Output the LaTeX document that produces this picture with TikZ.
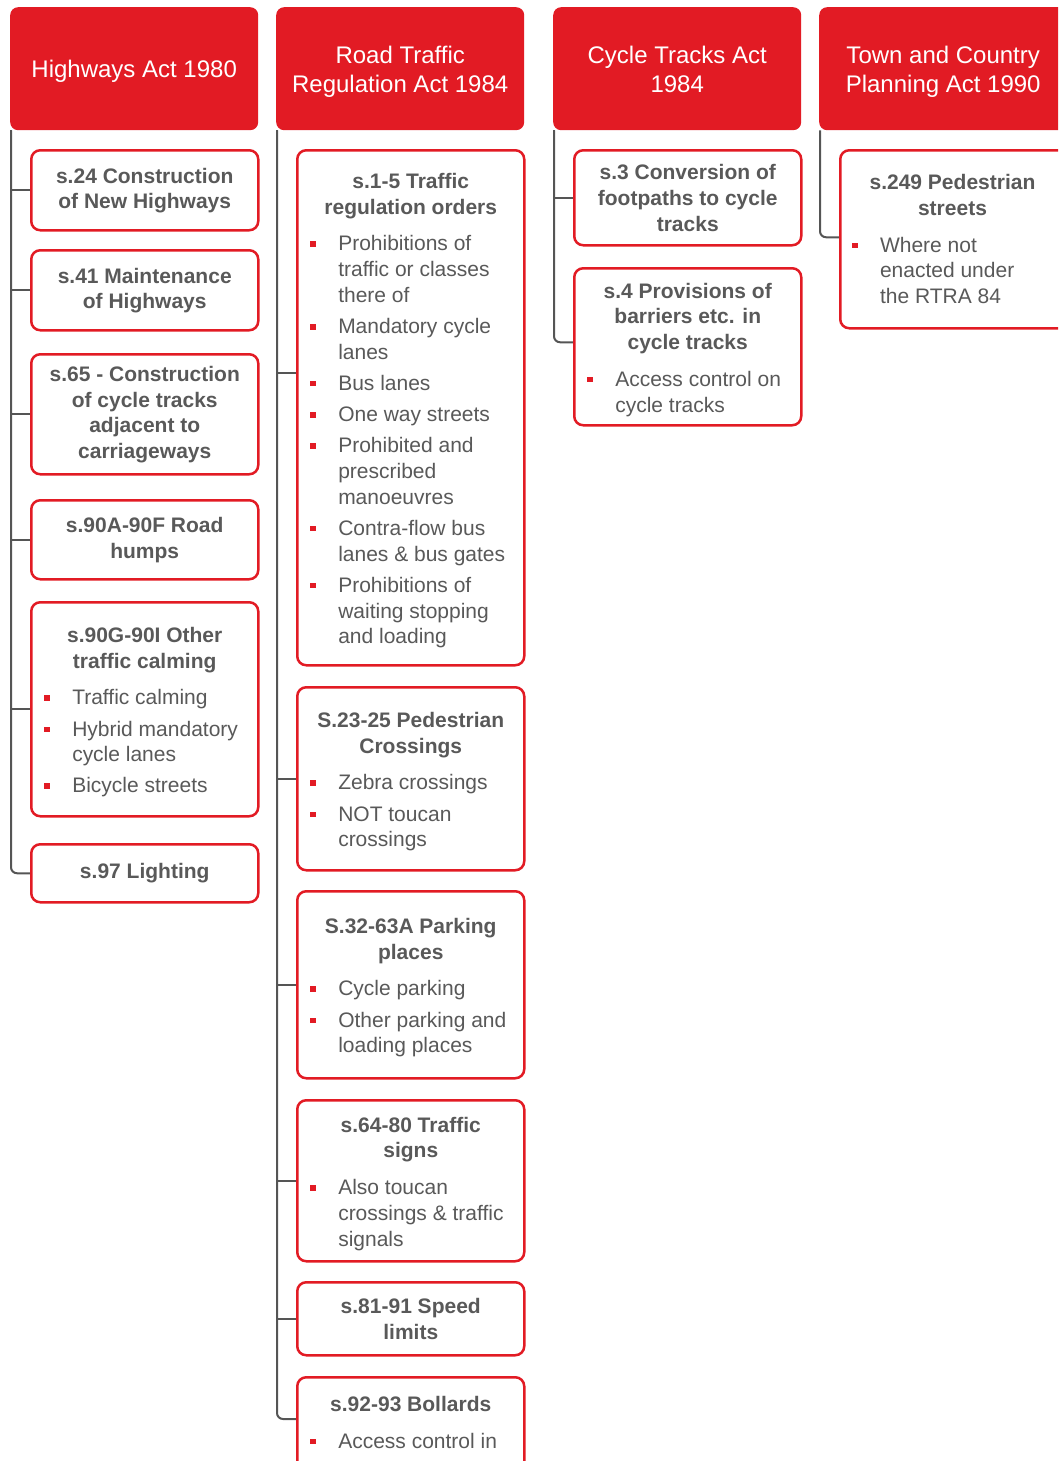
\documentclass[tikz,border=0pt]{standalone}
\usepackage{fontspec}
\setmainfont{Liberation Sans}
\usetikzlibrary{backgrounds}
\definecolor{ared}{RGB}{226,27,36}
\definecolor{tgray}{RGB}{89,89,89}
\definecolor{lgray}{RGB}{85,85,85}
\newcommand{\hd}[1]{\par{\centering\bfseries #1\par}\vspace{5.5pt}}
\newcommand{\bu}[1]{\par\vspace{5.5pt}{\let\\\newline\noindent\hangindent=28pt\hangafter=1\makebox[28pt][l]{\raisebox{4pt}{\textcolor{ared}{\rule{5.5pt}{5.5pt}}}}#1\par}}
\newcommand{\cnt}[1]{\begin{minipage}{201pt}\vspace*{6pt}\fontsize{21}{25.7}\selectfont\color{tgray}\raggedright #1\end{minipage}}
\newcommand{\hcnt}[1]{\begin{minipage}{240pt}\vspace*{6pt}\centering #1\vphantom{g}\end{minipage}}
\tikzset{
  hdr/.style={fill=ared, rounded corners=8pt, minimum width=248pt, minimum height=123pt, anchor=north west, text=white, inner sep=0pt, font=\fontsize{24}{29}\selectfont},
  sbox/.style={draw=ared, line width=2.5pt, fill=white, rounded corners=9pt, minimum width=227pt, inner sep=0pt, anchor=north west},
  conn/.style={draw=lgray, line width=2pt},
}
\begin{document}
\begin{tikzpicture}[x=1pt,y=1pt]
\useasboundingbox (0,0) rectangle (1058,-1461);
\clip (0,0) rectangle (1058,-1461);
% headers
\node[hdr] (h1) at (10,-7) {\hcnt{Highways Act 1980}};
\node[hdr] (h2) at (276,-7) {\hcnt{Road Traffic\\Regulation Act 1984}};
\node[hdr] (h3) at (553,-7) {\hcnt{Cycle Tracks Act\\1984}};
\node[hdr] (h4) at (819,-7) {\hcnt{Town and Country\\Planning Act 1990}};
% column 1
\node[sbox, minimum height=80pt] (c1a) at (30,-149) {\cnt{\hd{s.24 Construction\\of New Highways}}};
\node[sbox, minimum height=80pt] (c1b) at (30,-249) {\cnt{\hd{s.41 Maintenance\\of Highways}}};
\node[sbox, minimum height=120pt] (c1c) at (30,-353) {\cnt{\hd{s.65 - Construction\\of cycle tracks\\adjacent to\\carriageways}}};
\node[sbox, minimum height=79pt] (c1d) at (30,-499) {\cnt{\hd{s.90A-90F Road\\humps}}};
\node[sbox, minimum height=214pt] (c1e) at (30,-601) {\cnt{\hd{s.90G-90I Other\\traffic calming}\bu{Traffic calming}\bu{Hybrid mandatory\\cycle lanes}\bu{Bicycle streets}}};
\node[sbox, minimum height=58pt] (c1f) at (30,-843) {\cnt{\hd{s.97 Lighting}}};
% column 2
\node[sbox, minimum height=515pt] (c2a) at (296,-149) {\cnt{\hd{s.1-5 Traffic\\regulation orders}\bu{Prohibitions of\\traffic or classes\\there of}\bu{Mandatory cycle\\lanes}\bu{Bus lanes}\bu{One way streets}\bu{Prohibited and\\prescribed\\manoeuvres}\bu{Contra-flow bus\\lanes \& bus gates}\bu{Prohibitions of\\waiting stopping\\and loading}}};
\node[sbox, minimum height=183pt] (c2b) at (296,-686) {\cnt{\hd{S.23-25 Pedestrian\\Crossings}\bu{Zebra crossings}\bu{NOT toucan\\crossings}}};
\node[sbox, minimum height=187pt] (c2c) at (296,-890) {\cnt{\hd{S.32-63A Parking\\places}\bu{Cycle parking}\bu{Other parking and\\loading places}}};
\node[sbox, minimum height=161pt] (c2d) at (296,-1099) {\cnt{\hd{s.64-80 Traffic\\signs}\bu{Also toucan\\crossings \& traffic\\signals}}};
\node[sbox, minimum height=73pt] (c2e) at (296,-1281) {\cnt{\hd{s.81-91 Speed\\limits}}};
\node[sbox, minimum height=150pt] (c2f) at (296,-1376) {};
\node[anchor=north, inner sep=0pt] (c2ft) at ([yshift=-14pt]c2f.north) {\cnt{\hd{s.92-93 Bollards}\bu{Access control in}}};
% column 3
\node[sbox, minimum height=95pt] (c3a) at (573,-149) {\cnt{\hd{s.3 Conversion of\\footpaths to cycle\\tracks}}};
\node[sbox, minimum height=157pt] (c3b) at (573,-267) {\cnt{\hd{s.4 Provisions of\\barriers etc. in\\cycle tracks}\bu{Access control on\\cycle tracks}}};
% column 4
\node[sbox, minimum width=260pt, minimum height=178pt] (c4a) at (839,-149) {};
\node[inner sep=0pt] (c4at) at ([xshift=113.5pt,yshift=3pt]c4a.west) {\cnt{\hd{s.249 Pedestrian\\streets}\bu{Where not\\enacted under\\the RTRA 84}}};
% connectors
\begin{scope}[on background layer]
\draw[conn] ([xshift=1pt]h1.south west) |- (c1a.west);
\draw[conn] ([xshift=1pt]h1.south west) |- (c1b.west);
\draw[conn] ([xshift=1pt]h1.south west) |- (c1c.west);
\draw[conn] ([xshift=1pt]h1.south west) |- (c1d.west);
\draw[conn] ([xshift=1pt]h1.south west) |- (c1e.west);
\draw[conn, rounded corners=6pt] ([xshift=1pt]h1.south west) |- (c1f.west);
\draw[conn] ([xshift=1pt]h2.south west) |- ([yshift=34.5pt]c2a.west);
\draw[conn] ([xshift=1pt]h2.south west) |- (c2b.west);
\draw[conn] ([xshift=1pt]h2.south west) |- (c2c.west);
\draw[conn] ([xshift=1pt]h2.south west) |- (c2d.west);
\draw[conn] ([xshift=1pt]h2.south west) |- (c2e.west);
\draw[conn, rounded corners=6pt] ([xshift=1pt]h2.south west) |- ([yshift=-43pt]c2f.north west);
\draw[conn] ([xshift=1pt]h3.south west) |- (c3a.west);
\draw[conn, rounded corners=6pt] ([xshift=1pt]h3.south west) |- ([yshift=4.5pt]c3b.west);
\draw[conn, rounded corners=6pt] ([xshift=1pt]h4.south west) |- ([yshift=2pt]c4a.west);
\end{scope}
\end{tikzpicture}
\end{document}
